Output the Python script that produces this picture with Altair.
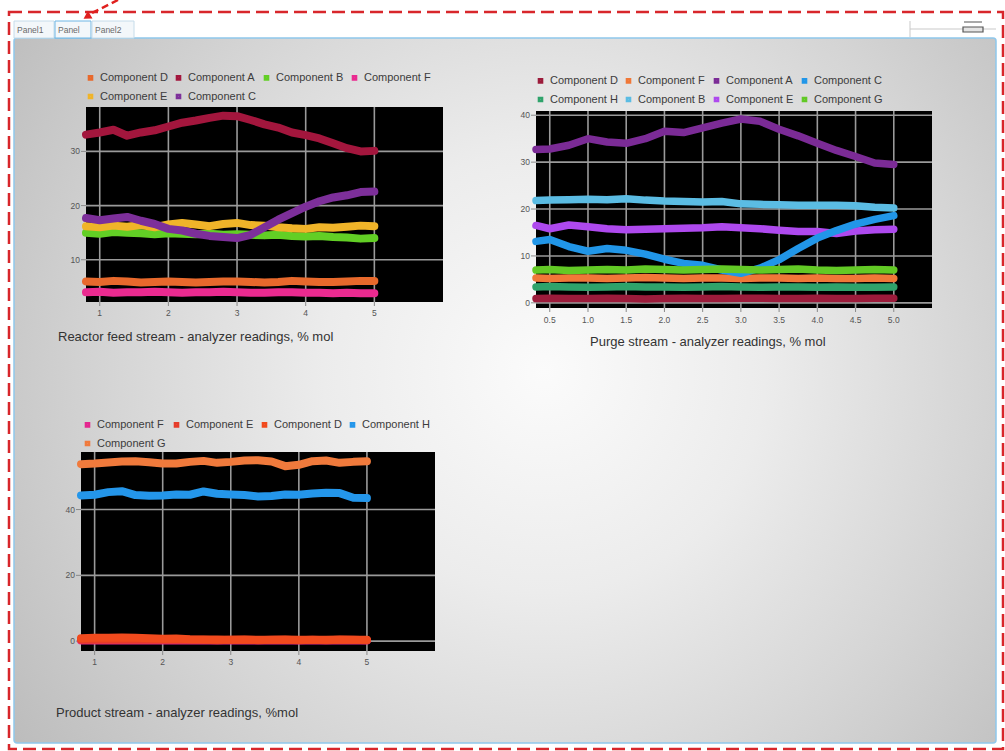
import altair as alt
import pandas as pd

# ---------------- data: panel 1 (Reactor feed stream) ----------------
P1_X = [0.8, 1.0, 1.2, 1.4, 1.6, 1.8, 2.0, 2.2, 2.4, 2.6, 2.8, 3.0,
        3.2, 3.4, 3.6, 3.8, 4.0, 4.2, 4.4, 4.6, 4.8, 5.0]
P1_LEGEND = ["Component D", "Component A", "Component B", "Component F",
             "Component E", "Component C"]
P1_COLORS = ["#e8692c", "#a3163d", "#62cf25", "#ea2a90", "#f0b429", "#7d2f9a"]
P1_A = [33.1, 33.5, 34.0, 32.9, 33.5, 33.9, 34.6, 35.3, 35.7, 36.2, 36.6, 36.5,
        35.8, 35.0, 34.4, 33.5, 33.0, 32.4, 31.5, 30.6, 30.0, 30.1]
P1_C = [17.7, 17.3, 17.6, 17.9, 17.2, 16.6, 15.7, 15.4, 14.8, 14.4, 14.2, 14.0,
        14.6, 16.0, 17.4, 18.6, 19.8, 20.8, 21.5, 21.9, 22.5, 22.6]
P1_E = [16.2, 16.0, 16.3, 16.1, 16.4, 16.0, 16.5, 16.8, 16.5, 16.2, 16.6, 16.8,
        16.4, 16.3, 16.0, 15.8, 15.7, 16.0, 15.9, 16.1, 16.3, 16.2]
P1_B = [15.0, 14.8, 15.1, 15.0, 14.9, 14.7, 14.9, 14.8, 14.7, 14.8, 14.6, 14.7,
        14.6, 14.5, 14.6, 14.4, 14.3, 14.4, 14.2, 14.1, 13.9, 14.0]
P1_D = [6.0, 5.9, 6.1, 6.0, 5.8, 5.9, 6.0, 5.9, 5.8, 5.9, 6.0, 6.0,
        5.9, 5.8, 5.9, 6.1, 6.0, 5.9, 5.9, 6.0, 6.1, 6.1]
P1_F = [4.0, 4.1, 3.9, 4.0, 4.0, 4.1, 4.0, 3.9, 4.0, 4.0, 4.1, 4.0,
        3.9, 3.9, 4.0, 4.0, 3.9, 3.9, 3.8, 3.9, 3.8, 3.8]
P1_X_TICKS = [1, 2, 3, 4, 5]
P1_Y_TICKS = [10, 20, 30]

# ---------------- data: panel 2 (Purge stream) ----------------
P2_X = [0.32, 0.5, 0.75, 1.0, 1.25, 1.5, 1.75, 2.0, 2.25, 2.5, 2.75, 3.0,
        3.25, 3.5, 3.75, 4.0, 4.25, 4.5, 4.75, 5.0]
P2_LEGEND = ["Component D", "Component F", "Component A", "Component C",
             "Component H", "Component B", "Component E", "Component G"]
P2_COLORS = ["#9c1b3b", "#f07838", "#7b2b96", "#2196e8",
             "#2fa36b", "#5bbce3", "#ae49ee", "#62c925"]
P2_A = [32.7, 32.8, 33.6, 35.0, 34.3, 34.0, 35.0, 36.6, 36.3, 37.3, 38.3, 39.2,
        38.7, 37.0, 35.6, 34.0, 32.5, 31.2, 29.8, 29.5]
P2_B = [21.8, 21.9, 22.0, 22.1, 22.0, 22.2, 21.9, 21.7, 21.6, 21.5, 21.6, 21.1,
        21.0, 20.9, 20.8, 20.8, 20.8, 20.7, 20.4, 20.2]
P2_E = [16.5, 15.8, 16.6, 16.2, 15.8, 15.6, 15.7, 15.8, 15.9, 16.0, 16.2, 16.0,
        15.8, 15.5, 15.2, 15.2, 14.8, 15.3, 15.6, 15.7]
P2_C = [13.1, 13.5, 12.0, 11.0, 11.6, 11.2, 10.4, 9.3, 8.4, 8.0, 7.0, 6.3,
        7.4, 9.2, 11.6, 13.8, 15.4, 16.8, 17.8, 18.6]
P2_G = [7.0, 7.1, 6.9, 7.0, 7.1, 7.0, 7.2, 7.1, 7.0, 7.1, 7.2, 7.1,
        7.0, 7.1, 7.2, 7.0, 6.9, 7.0, 7.1, 7.0]
P2_F = [5.3, 5.2, 5.3, 5.3, 5.2, 5.3, 5.4, 5.3, 5.2, 5.3, 5.3, 5.2,
        5.3, 5.3, 5.2, 5.3, 5.2, 5.2, 5.3, 5.2]
P2_H = [3.4, 3.5, 3.4, 3.3, 3.4, 3.5, 3.4, 3.4, 3.3, 3.4, 3.5, 3.4,
        3.3, 3.4, 3.4, 3.3, 3.4, 3.3, 3.3, 3.4]
P2_D = [0.9, 1.0, 0.9, 0.9, 1.0, 0.9, 0.8, 0.9, 1.0, 0.9, 0.9, 1.0,
        1.0, 0.9, 0.9, 1.0, 0.9, 0.9, 1.0, 1.0]
P2_X_TICKS = [0.5, 1.0, 1.5, 2.0, 2.5, 3.0, 3.5, 4.0, 4.5, 5.0]
P2_Y_TICKS = [0, 10, 20, 30, 40]

# ---------------- data: panel 3 (Product stream) ----------------
P3_X = [0.8, 1.0, 1.2, 1.4, 1.6, 1.8, 2.0, 2.2, 2.4, 2.6, 2.8, 3.0,
        3.2, 3.4, 3.6, 3.8, 4.0, 4.2, 4.4, 4.6, 4.8, 5.0]
P3_LEGEND = ["Component F", "Component E", "Component D", "Component H", "Component G"]
P3_COLORS = ["#e4268f", "#e63c2a", "#f14a1d", "#2496ea", "#f07a3c"]
P3_G = [53.8, 54.0, 54.3, 54.6, 54.7, 54.4, 54.0, 54.0, 54.5, 54.8, 54.2, 54.5,
        54.9, 55.0, 54.6, 53.2, 53.6, 54.7, 54.9, 54.2, 54.5, 54.7]
P3_H = [44.3, 44.5, 45.3, 45.6, 44.4, 44.2, 44.3, 44.6, 44.5, 45.5, 44.8, 44.6,
        44.4, 44.0, 44.1, 44.6, 44.5, 44.9, 45.1, 45.0, 43.6, 43.5]
P3_D = [0.9, 1.0, 1.0, 1.1, 1.0, 0.9, 0.7, 0.8, 0.6, 0.5, 0.5, 0.4,
        0.5, 0.4, 0.4, 0.5, 0.4, 0.4, 0.4, 0.5, 0.4, 0.4]
P3_E = [0.4, 0.4, 0.5, 0.4, 0.5, 0.4, 0.4, 0.5, 0.4, 0.4, 0.3, 0.4,
        0.4, 0.3, 0.4, 0.4, 0.3, 0.4, 0.3, 0.4, 0.4, 0.3]
P3_F = [0.2, 0.2, 0.3, 0.2, 0.2, 0.3, 0.2, 0.2, 0.2, 0.3, 0.2, 0.2,
        0.2, 0.2, 0.3, 0.2, 0.2, 0.2, 0.3, 0.2, 0.2, 0.2]
P3_X_TICKS = [1, 2, 3, 4, 5]
P3_Y_TICKS = [0, 20, 40]

CAPTIONS = ["Reactor feed stream - analyzer readings, % mol",
            "Purge stream - analyzer readings, % mol",
            "Product stream - analyzer readings, %mol"]
TABS = ["Panel1", "Panel", "Panel2"]

FONT = "Liberation Sans"


def long_df(xs, series):
    rows = []
    for name, vals in series:
        for x, v in zip(xs, vals):
            rows.append({"x": x, "v": v, "c": name})
    return pd.DataFrame(rows)


def panel(df, legend_domain, legend_colors, x_dom, x_rng, y_dom, y_rng,
          x_ticks, y_ticks, x_fmt, legend_xy, ylab_x, xlab_y, stroke_w):
    xs = alt.Scale(domain=x_dom, range=x_rng, nice=False, zero=False)
    ys = alt.Scale(domain=y_dom, range=y_rng, nice=False, zero=False)

    frame = alt.Chart(pd.DataFrame({"x0": [x_dom[0]], "x1": [x_dom[1]],
                                    "y0": [y_dom[0]], "y1": [y_dom[1]]})).mark_rect(
        color="#000000").encode(
        x=alt.X("x0:Q", scale=xs, axis=None), x2="x1:Q",
        y=alt.Y("y0:Q", scale=ys, axis=None), y2="y1:Q")

    vdf = pd.DataFrame({"g": x_ticks, "lo": [y_dom[0]] * len(x_ticks),
                        "hi": [y_dom[1]] * len(x_ticks)})
    hdf = pd.DataFrame({"g": y_ticks, "lo": [x_dom[0]] * len(y_ticks),
                        "hi": [x_dom[1]] * len(y_ticks)})
    vgrid = alt.Chart(vdf).mark_rule(color="#9a9a9a", strokeWidth=1.6).encode(
        x=alt.X("g:Q", scale=xs, axis=None),
        y=alt.Y("lo:Q", scale=ys, axis=None), y2="hi:Q")
    hgrid = alt.Chart(hdf).mark_rule(color="#9a9a9a", strokeWidth=1.6).encode(
        y=alt.Y("g:Q", scale=ys, axis=None),
        x=alt.X("lo:Q", scale=xs, axis=None), x2="hi:Q")

    left = x_rng[0]
    bottom = y_rng[0]
    ytick = alt.Chart(pd.DataFrame({"g": y_ticks})).mark_rule(
        color="#8a8a8a", strokeWidth=1).encode(
        y=alt.Y("g:Q", scale=ys, axis=None),
        x=alt.value(left - 5), x2=alt.value(left))
    xtick = alt.Chart(pd.DataFrame({"g": x_ticks})).mark_rule(
        color="#8a8a8a", strokeWidth=1).encode(
        x=alt.X("g:Q", scale=xs, axis=None),
        y=alt.value(bottom), y2=alt.value(bottom + 4))
    ylab = alt.Chart(pd.DataFrame({"g": y_ticks})).mark_text(
        align="right", baseline="middle", fontSize=8.5, color="#555555", font=FONT).encode(
        y=alt.Y("g:Q", scale=ys, axis=None), x=alt.value(ylab_x),
        text=alt.Text("g:Q", format="d"))
    xlab = alt.Chart(pd.DataFrame({"g": x_ticks})).mark_text(
        align="center", baseline="middle", fontSize=8.5, color="#555555", font=FONT).encode(
        x=alt.X("g:Q", scale=xs, axis=None), y=alt.value(xlab_y),
        text=alt.Text("g:Q", format=x_fmt))

    lines = alt.Chart(df).mark_line(strokeWidth=stroke_w, strokeCap="round",
                                    strokeJoin="round").encode(
        x=alt.X("x:Q", scale=xs, axis=None),
        y=alt.Y("v:Q", scale=ys, axis=None),
        color=alt.Color("c:N", scale=alt.Scale(domain=legend_domain, range=legend_colors),
                        legend=alt.Legend(orient="none", legendX=legend_xy[0],
                                          legendY=legend_xy[1], columns=4,
                                          direction="horizontal", title=None,
                                          symbolType="square", symbolSize=9,
                                          symbolStrokeWidth=2.6, symbolOpacity=1,
                                          labelFontSize=11, labelFont=FONT,
                                          labelColor="#3c3c3c", labelOffset=4,
                                          columnPadding=3, rowPadding=4, padding=0)))
    return alt.layer(frame, vgrid, hgrid, ytick, xtick, ylab, xlab, lines)


one = pd.DataFrame({"k": [0]})

# ---------------- page chrome ----------------
bg = alt.Chart(one).mark_rect(
    fill=alt.RadialGradient(
        gradient="radial",
        stops=[alt.GradientStop(offset=0, color="#fbfbfb"),
               alt.GradientStop(offset=0.3, color="#ececec"),
               alt.GradientStop(offset=0.6, color="#d4d4d4"),
               alt.GradientStop(offset=1, color="#b2b2b2")],
        x1=0.54, y1=0.48, r1=0, x2=0.54, y2=0.48, r2=0.75),
    stroke="#8fc8ec", strokeWidth=1.5, cornerRadius=3).encode(
    x=alt.value(14), x2=alt.value(996), y=alt.value(38), y2=alt.value(743))

border = alt.Chart(one).mark_rect(filled=False, stroke="#d8262b", strokeWidth=2.5,
                                  strokeDash=[13, 6]).encode(
    x=alt.value(9), x2=alt.value(1003), y=alt.value(12), y2=alt.value(749))

arrow_line = alt.Chart(one).mark_rule(color="#e0201e", strokeWidth=2.5,
                                      strokeDash=[7, 4]).encode(
    x=alt.value(118), y=alt.value(0), x2=alt.value(92), y2=alt.value(13))
arrow_head = alt.Chart(one).mark_point(shape="triangle", filled=True, size=80,
                                       angle=239, color="#e0201e", opacity=1).encode(
    x=alt.value(88), y=alt.value(16))

tab_df = pd.DataFrame({"t": TABS, "x0": [14, 55, 92], "x1": [54, 91, 134],
                       "sel": [0, 1, 0]})
tab_boxes = alt.Chart(tab_df).mark_rect(fill="#f3f7fa", strokeWidth=1).encode(
    x=alt.X("x0:Q", scale=None), x2="x1:Q",
    y=alt.value(21), y2=alt.value(38),
    stroke=alt.condition("datum.sel == 1", alt.value("#6fb6e4"), alt.value("#c6dcea")))
tab_text = alt.Chart(tab_df).mark_text(align="left", baseline="middle", fontSize=8.5,
                                       color="#6a6a6a", font=FONT, dx=3).encode(
    x=alt.X("x0:Q", scale=None), y=alt.value(30), text="t:N")

slider_line = alt.Chart(one).mark_rule(color="#c9c9c9", strokeWidth=1).encode(
    x=alt.value(910), x2=alt.value(996), y=alt.value(29))
slider_tick = alt.Chart(one).mark_rule(color="#c9c9c9", strokeWidth=1).encode(
    x=alt.value(910), y=alt.value(21), y2=alt.value(37))
slider_top = alt.Chart(one).mark_rule(color="#707070", strokeWidth=1.2).encode(
    x=alt.value(964), x2=alt.value(982), y=alt.value(22))
slider_handle = alt.Chart(one).mark_rect(fill="#e4e4e4", stroke="#555555",
                                         strokeWidth=1.2).encode(
    x=alt.value(963), x2=alt.value(983), y=alt.value(27), y2=alt.value(32))

# ---------------- panels ----------------
df1 = long_df(P1_X, [("Component F", P1_F), ("Component D", P1_D), ("Component B", P1_B),
                     ("Component E", P1_E), ("Component C", P1_C), ("Component A", P1_A)])
df2 = long_df(P2_X, [("Component D", P2_D), ("Component H", P2_H), ("Component F", P2_F),
                     ("Component E", P2_E), ("Component C", P2_C), ("Component G", P2_G),
                     ("Component B", P2_B), ("Component A", P2_A)])
df3 = long_df(P3_X, [("Component H", P3_H), ("Component G", P3_G), ("Component F", P3_F),
                     ("Component E", P3_E), ("Component D", P3_D)])

panel1 = panel(df1, P1_LEGEND, P1_COLORS, [0.8, 6.0], [86, 443], [2.2, 38.2], [302, 107],
               P1_X_TICKS, P1_Y_TICKS, "d", (85, 72), 80, 313, 8.0)
panel2 = panel(df2, P2_LEGEND, P2_COLORS, [0.32, 5.5], [536, 932], [-1.1, 40.9], [308, 111],
               P2_X_TICKS, P2_Y_TICKS, ".1f", (535, 75), 530, 320, 7.5)
panel3 = panel(df3, P3_LEGEND, P3_COLORS, [0.8, 6.0], [81, 435], [-3.0, 57.5], [651, 452],
               P3_X_TICKS, P3_Y_TICKS, "d", (82, 419), 75, 662, 8.0)

cap_df = pd.DataFrame({"t": CAPTIONS, "px": [58, 590, 56], "py": [337, 342, 713]})
captions = alt.Chart(cap_df).mark_text(align="left", baseline="middle", fontSize=13,
                                       color="#333333", font=FONT).encode(
    x=alt.X("px:Q", scale=None), y=alt.Y("py:Q", scale=None), text="t:N")

chart = alt.layer(
    bg, border, arrow_line, arrow_head, tab_boxes, tab_text,
    slider_line, slider_tick, slider_top, slider_handle,
    panel1, panel2, panel3, captions
).resolve_scale(
    x="independent", y="independent", color="independent", stroke="independent"
).properties(
    width=1005, height=751, padding=0,
    autosize=alt.AutoSizeParams(type="none"),
    background="#ffffff"
).configure_view(strokeWidth=0)

chart.save("out.html", embed_options={"renderer": "svg", "actions": False})
